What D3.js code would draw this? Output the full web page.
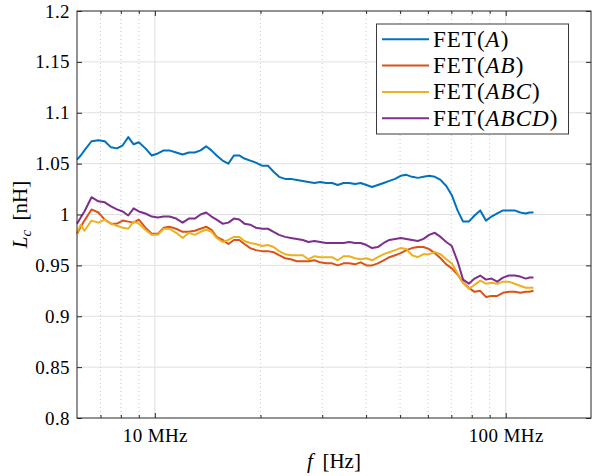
<!DOCTYPE html>
<html>
<head>
<meta charset="utf-8">
<script src="https://cdn.jsdelivr.net/npm/d3@7"></script>
<style>
body { margin: 0; background: #fff; }
text { font-family: "Liberation Serif", "Times New Roman", serif; fill: #000; }
</style>
</head>
<body>
<svg id="chart" width="592" height="476"></svg>
<script>
// frequencies in MHz (shared by all four curves)
var freqMHz = [6.0,6.15,6.3,6.6,6.9,7.2,7.5,7.8,8.1,8.4,8.7,9.0,9.4,9.8,10.2,10.6,11.0,11.5,12.0,12.5,
  13.0,13.5,14.0,14.5,15.0,15.6,16.2,16.8,17.4,18.0,18.7,19.4,20.2,21.0,21.8,22.6,23.5,24.4,25.4,26.4,
  27.4,28.5,29.6,30.8,32.0,33.2,34.5,35.8,37.2,38.6,40.1,41.6,43.2,44.9,46.6,48.4,50.2,52.1,54.1,56.2,
  58.3,60.5,62.8,65.2,67.7,70.2,72.9,75.6,78.5,81.5,84.6,87.8,91.1,94.6,98.2,102,106,110,114,117,120];

// L_c in nH
var lcA = [1.054,1.058,1.063,1.072,1.073,1.072,1.066,1.065,1.068,1.076,1.069,1.071,1.065,1.058,1.060,
  1.063,1.063,1.061,1.059,1.061,1.061,1.063,1.067,1.063,1.058,1.053,1.050,1.058,1.058,1.055,
  1.053,1.051,1.048,1.048,1.042,1.037,1.035,1.035,1.034,1.033,1.032,1.031,1.032,1.031,1.031,
  1.029,1.031,1.031,1.030,1.031,1.029,1.027,1.029,1.031,1.033,1.035,1.038,1.039,1.037,1.036,
  1.037,1.038,1.037,1.034,1.028,1.019,1.004,0.993,0.993,0.999,1.004,0.994,0.998,1.001,1.004,
  1.004,1.004,1.002,1.001,1.002,1.002];
var lcAB = [0.981,0.988,0.994,1.005,1.002,0.995,0.991,0.991,0.994,0.993,0.992,0.995,0.987,0.981,0.981,
  0.987,0.988,0.986,0.983,0.983,0.984,0.986,0.988,0.985,0.978,0.975,0.971,0.975,0.975,0.971,
  0.967,0.965,0.964,0.964,0.963,0.960,0.957,0.956,0.954,0.954,0.954,0.955,0.953,0.952,0.952,
  0.950,0.952,0.952,0.951,0.953,0.950,0.950,0.952,0.955,0.958,0.960,0.962,0.965,0.967,0.968,
  0.968,0.966,0.962,0.957,0.951,0.947,0.941,0.933,0.928,0.924,0.925,0.919,0.920,0.920,0.923,
  0.924,0.924,0.923,0.924,0.924,0.925];
var lcABC = [0.982,0.990,0.984,0.994,0.992,0.995,0.991,0.989,0.987,0.986,0.993,0.991,0.985,0.980,0.980,
  0.986,0.986,0.982,0.977,0.982,0.980,0.983,0.985,0.983,0.977,0.973,0.975,0.978,0.978,0.974,
  0.972,0.971,0.969,0.970,0.968,0.964,0.961,0.960,0.960,0.960,0.956,0.959,0.958,0.958,0.958,
  0.955,0.959,0.959,0.957,0.956,0.957,0.955,0.958,0.961,0.963,0.965,0.967,0.966,0.960,0.958,
  0.961,0.961,0.963,0.961,0.956,0.952,0.942,0.933,0.927,0.931,0.935,0.932,0.933,0.932,0.934,
  0.934,0.932,0.930,0.928,0.928,0.928];
var lcABCD = [0.991,0.997,1.003,1.017,1.013,1.012,1.008,1.005,1.003,0.999,1.006,1.003,1.001,0.998,0.997,
  0.998,0.998,0.996,0.992,0.996,0.996,1.000,1.002,0.998,0.995,0.991,0.992,0.996,0.995,0.991,
  0.990,0.987,0.986,0.986,0.983,0.980,0.978,0.977,0.976,0.975,0.973,0.974,0.973,0.972,0.972,
  0.972,0.972,0.973,0.972,0.972,0.970,0.967,0.968,0.972,0.975,0.976,0.977,0.976,0.975,0.974,
  0.976,0.980,0.982,0.978,0.973,0.969,0.954,0.936,0.932,0.937,0.940,0.936,0.937,0.934,0.938,
  0.940,0.940,0.939,0.937,0.938,0.938];

var seriesNames = ["A", "AB", "ABC", "ABCD"];
var seriesValues = [lcA, lcAB, lcABC, lcABCD];
var seriesColors = ["#0072BD", "#D95319", "#EDB120", "#7E2F8E"];

var yTicks = [0.8, 0.85, 0.9, 0.95, 1, 1.05, 1.1, 1.15, 1.2];
var xMajor = [10, 100];
var xMinor = [7, 8, 9, 20, 30, 40, 50, 60, 70, 80, 90];

var svg = d3.select("#chart");
// note: "top" is taken by window.top, so plot edges get their own names
var pL = 77, pR = 591, pT = 11, pB = 418;

var x = d3.scaleLog().domain([6, 175]).range([pL, pR]);
var y = d3.scaleLinear().domain([0.8, 1.2]).range([pB, pT]);

// grid
var grid = svg.append("g");
grid.selectAll(".gy").data(yTicks.slice(1, -1)).enter().append("line")
  .attr("x1", pL).attr("x2", pR)
  .attr("y1", function(d) { return y(d); }).attr("y2", function(d) { return y(d); })
  .attr("stroke", "#e0e0e0").attr("stroke-width", 1);
grid.selectAll(".gx").data(xMajor).enter().append("line")
  .attr("x1", function(d) { return x(d); }).attr("x2", function(d) { return x(d); })
  .attr("y1", pT).attr("y2", pB)
  .attr("stroke", "#e0e0e0").attr("stroke-width", 1);
grid.selectAll(".gm").data(xMinor).enter().append("line")
  .attr("x1", function(d) { return x(d); }).attr("x2", function(d) { return x(d); })
  .attr("y1", pT).attr("y2", pB)
  .attr("stroke", "#bdbdbd").attr("stroke-width", 0.8)
  .attr("stroke-dasharray", "1,3");

// curves
var line = d3.line()
  .x(function(d) { return x(d[0]); })
  .y(function(d) { return y(d[1]); });

seriesValues.forEach(function(vals, i) {
  var pts = freqMHz.map(function(f, k) { return [f, vals[k]]; });
  svg.append("path")
    .datum(pts)
    .attr("d", line)
    .attr("fill", "none")
    .attr("stroke", seriesColors[i])
    .attr("stroke-width", 2)
    .attr("stroke-linejoin", "round");
});

// axes (ticks inside, on all four sides)
function styleAxis(g) {
  g.select(".domain").remove();
  g.selectAll(".tick line").attr("stroke", "#262626");
  g.selectAll("text")
    .style("font-family", "'Liberation Serif', serif")
    .style("font-size", "19px")
    .style("letter-spacing", "0.4px")
    .attr("fill", "#000");
}

svg.append("g").attr("transform", "translate(0," + pB + ")")
  .call(d3.axisBottom(x).tickValues(xMajor).tickFormat(function(d) { return d + " MHz"; })
    .tickSizeInner(-5).tickSizeOuter(0).tickPadding(11))
  .call(styleAxis);
svg.append("g").attr("transform", "translate(0," + pB + ")")
  .call(d3.axisBottom(x).tickValues(xMinor).tickFormat("").tickSizeInner(-3).tickSizeOuter(0))
  .call(styleAxis);
svg.append("g").attr("transform", "translate(0," + pT + ")")
  .call(d3.axisTop(x).tickValues(xMajor).tickFormat("").tickSizeInner(-5).tickSizeOuter(0))
  .call(styleAxis);
svg.append("g").attr("transform", "translate(0," + pT + ")")
  .call(d3.axisTop(x).tickValues(xMinor).tickFormat("").tickSizeInner(-3).tickSizeOuter(0))
  .call(styleAxis);
svg.append("g").attr("transform", "translate(" + pL + ",0)")
  .call(d3.axisLeft(y).tickValues(yTicks).tickFormat(d3.format("~g"))
    .tickSizeInner(-5).tickSizeOuter(0).tickPadding(7))
  .call(styleAxis);
svg.append("g").attr("transform", "translate(" + pR + ",0)")
  .call(d3.axisRight(y).tickValues(yTicks).tickFormat("").tickSizeInner(-5).tickSizeOuter(0))
  .call(styleAxis);

svg.append("rect")
  .attr("x", pL).attr("y", pT)
  .attr("width", pR - pL).attr("height", pB - pT)
  .attr("fill", "none").attr("stroke", "#262626").attr("stroke-width", 1);

// axis labels
var xl = svg.append("text")
  .attr("x", (pL + pR) / 2).attr("y", 468)
  .attr("text-anchor", "middle").style("font-size", "21px");
xl.append("tspan").style("font-style", "italic").text("f");
xl.append("tspan").text("\u2009 [Hz]");

var yl = svg.append("text")
  .attr("transform", "translate(27," + ((pT + pB) / 2) + ") rotate(-90)")
  .attr("text-anchor", "middle").style("font-size", "21px");
yl.append("tspan").style("font-style", "italic").text("L");
yl.append("tspan").style("font-style", "italic").style("font-size", "15px").attr("dy", 4).text("c");
yl.append("tspan").attr("dy", -4).text("\u2009 [nH]");

// legend
var lg = svg.append("g");
lg.append("rect")
  .attr("x", 376.5).attr("y", 24)
  .attr("width", 192).attr("height", 110)
  .attr("fill", "#fff").attr("stroke", "#3a3a3a").attr("stroke-width", 1);
seriesNames.forEach(function(name, i) {
  var cy = 39.3 + i * 26.3;
  lg.append("line")
    .attr("x1", 382).attr("x2", 429)
    .attr("y1", cy).attr("y2", cy)
    .attr("stroke", seriesColors[i]).attr("stroke-width", 2);
  var t = lg.append("text").attr("x", 433).attr("y", cy + 7.5)
    .style("font-size", "23px").style("letter-spacing", "1px");
  t.append("tspan").text("FET(");
  t.append("tspan").style("font-style", "italic").text(name);
  t.append("tspan").text(")");
});
</script>
</body>
</html>
